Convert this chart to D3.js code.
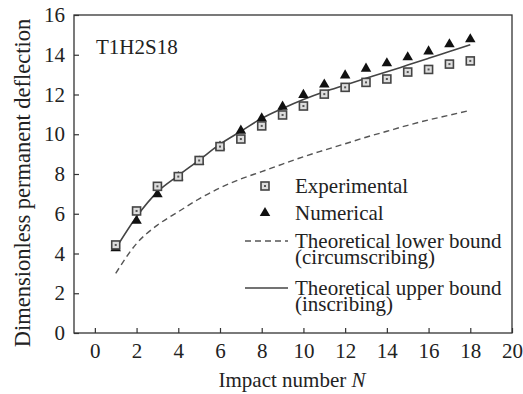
<!DOCTYPE html>
<html><head><meta charset="utf-8">
<script src="https://cdn.jsdelivr.net/npm/d3@7/dist/d3.min.js"></script>
<style>
body{margin:0;background:#fff;}
svg{display:block;}
text{font-family:"Liberation Serif","Times New Roman",serif;fill:#222;}
</style></head><body>
<svg id="chart" width="523" height="394"></svg>
<script>
const impacts = [1,2,3,4,5,6,7,8,9,10,11,12,13,14,15,16,17,18];
const experimental = [4.43,6.14,7.38,7.87,8.68,9.38,9.76,10.42,10.97,11.42,12.02,12.36,12.61,12.78,13.13,13.26,13.53,13.69];
const numerical = [4.26,5.65,6.98,7.84,8.62,9.38,10.18,10.80,11.39,11.98,12.50,12.96,13.30,13.57,13.87,14.17,14.53,14.78];
const upperBound = [4.25,5.85,7.10,7.92,8.70,9.50,10.15,10.80,11.30,11.75,12.14,12.48,12.82,13.14,13.48,13.82,14.16,14.50];
const lowerBound = [3.00,4.50,5.43,6.10,6.75,7.30,7.75,8.12,8.50,8.87,9.20,9.52,9.85,10.15,10.45,10.72,10.96,11.20];
const xTicks = [0,2,4,6,8,10,12,14,16,18,20];
const yTicks = [0,2,4,6,8,10,12,14,16];
const legendLabels = ["Experimental","Numerical","Theoretical lower bound","(circumscribing)","Theoretical upper bound","(inscribing)"];

const svg = d3.select("#chart");
const x = d3.scaleLinear().domain([-1,20]).range([74,512]);
const y = d3.scaleLinear().domain([0,16]).range([333,15]);
const FS = 21;

// frame
svg.append("rect").attr("x",74).attr("y",15).attr("width",438).attr("height",318)
  .attr("fill","none").attr("stroke","#333").attr("stroke-width",1.3);

const xa = svg.append("g").attr("transform","translate(0,333)")
  .call(d3.axisBottom(x).tickValues(xTicks).tickSizeInner(-5).tickSizeOuter(0).tickPadding(10));
xa.select(".domain").remove();
xa.selectAll("line").attr("stroke","#333").attr("stroke-width",1.2);
xa.selectAll("text").attr("font-size",FS).attr("fill","#222").attr("font-family","Liberation Serif, serif");

const ya = svg.append("g").attr("transform","translate(74,0)")
  .call(d3.axisLeft(y).tickValues(yTicks).tickSizeInner(-5).tickSizeOuter(0).tickPadding(9));
ya.select(".domain").remove();
ya.selectAll("line").attr("stroke","#333").attr("stroke-width",1.2);
ya.selectAll("text").attr("font-size",FS).attr("fill","#222").attr("font-family","Liberation Serif, serif");

// axis titles
const xt = svg.append("text").attr("x",292).attr("y",387).attr("text-anchor","middle").attr("font-size",FS);
xt.append("tspan").text("Impact number ");
xt.append("tspan").attr("font-style","italic").text("N");
svg.append("text").attr("transform","translate(30,183) rotate(-90)").attr("text-anchor","middle")
  .attr("font-size",22.5).text("Dimensionless permanent deflection");

svg.append("text").attr("x",96).attr("y",54).attr("font-size",FS).text("T1H2S18");

// lines
const line = d3.line().x((d,i)=>x(impacts[i])).y(d=>y(d)).curve(d3.curveMonotoneX);
svg.append("path").datum(lowerBound).attr("d",line).attr("fill","none")
  .attr("stroke","#555").attr("stroke-width",1.4).attr("stroke-dasharray","6,4");
svg.append("path").datum(upperBound).attr("d",line).attr("fill","none")
  .attr("stroke","#444").attr("stroke-width",1.6);

function square(g, cx, cy){
  g.append("rect").attr("x",cx-4).attr("y",cy-4).attr("width",8).attr("height",8)
    .attr("fill","#ddd").attr("stroke","#444").attr("stroke-width",1.6);
  g.append("rect").attr("x",cx-1).attr("y",cy-1).attr("width",2).attr("height",2).attr("fill","#555");
}
const tri = d3.symbol().type(d3.symbolTriangle).size(48);
function triangle(g, cx, cy){
  g.append("path").attr("d",tri).attr("transform",`translate(${cx},${cy})`).attr("fill","#111");
}

const gN = svg.append("g");
numerical.forEach((v,i)=>triangle(gN, x(impacts[i]), y(v)));
const gE = svg.append("g");
experimental.forEach((v,i)=>square(gE, x(impacts[i]), y(v)));

// legend
const lg = svg.append("g");
square(lg, 265, 186);
triangle(lg, 265, 213);
lg.append("line").attr("x1",245).attr("x2",288).attr("y1",241).attr("y2",241)
  .attr("stroke","#555").attr("stroke-width",1.4).attr("stroke-dasharray","6,4");
lg.append("line").attr("x1",245).attr("x2",288).attr("y1",288).attr("y2",288)
  .attr("stroke","#444").attr("stroke-width",1.6);
const ly = [193,220,248,264,295,311];
legendLabels.forEach((t,i)=>lg.append("text").attr("x",295).attr("y",ly[i]).attr("font-size",FS).text(t));
</script></body></html>
